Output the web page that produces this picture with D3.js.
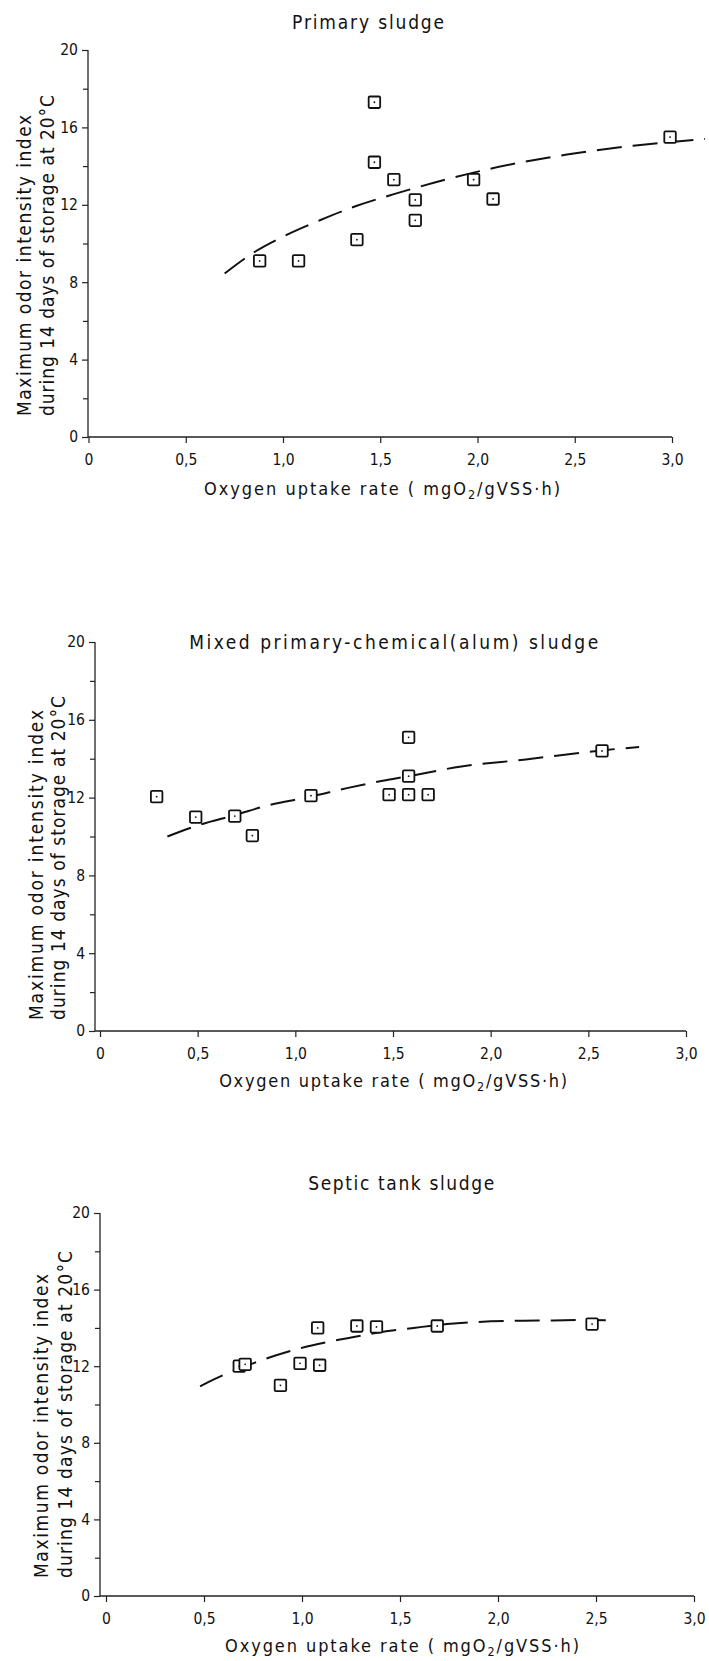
<!DOCTYPE html>
<html>
<head>
<meta charset="utf-8">
<script src="https://cdn.jsdelivr.net/npm/d3@7/dist/d3.min.js"></script>
<style>
  html, body { margin: 0; padding: 0; background: #fff; }
  svg { display: block; }
  text { font-family: "DejaVu Sans Condensed", "DejaVu Sans", sans-serif; fill: #111; }
</style>
</head>
<body>
<svg id="chart" width="709" height="1661"></svg>
<script>
// ---------------- DATA ----------------
const xTickValues = [0, 0.5, 1.0, 1.5, 2.0, 2.5, 3.0];
const xTickLabels = ["0", "0,5", "1,0", "1,5", "2,0", "2,5", "3,0"];
const yTickValues = [0, 4, 8, 12, 16, 20];
const yTickLabels = ["0", "4", "8", "12", "16", "20"];
const yMinorTicks = [2, 6, 10, 14, 18];

const titles = ["Primary sludge", "Mixed primary-chemical(alum) sludge", "Septic tank sludge"];
const yLabelLine1 = "Maximum odor intensity index";
const yLabelLine2 = "during 14 days of storage at 20\u00B0C";

// Primary sludge
const primaryX = [0.88, 1.08, 1.38, 1.47, 1.47, 1.57, 1.68, 1.68, 1.98, 2.08, 2.99];
const primaryY = [9.1, 9.1, 10.2, 17.3, 14.2, 13.3, 12.25, 11.2, 13.3, 12.3, 15.5];
const primaryCurveX = [0.70, 0.86, 1.01, 1.19, 1.38, 1.57, 1.78, 2.06, 2.46, 2.80, 3.17];
const primaryCurveY = [8.45, 9.6, 10.4, 11.2, 11.95, 12.55, 13.15, 13.85, 14.6, 15.05, 15.4];

// Mixed primary-chemical (alum) sludge
const mixedX = [0.29, 0.49, 0.69, 0.78, 1.08, 1.48, 1.58, 1.58, 1.58, 1.68, 2.57];
const mixedY = [12.05, 11.0, 11.05, 10.05, 12.1, 12.15, 15.1, 13.1, 12.15, 12.15, 14.4];
const mixedCurveX = [0.345, 0.51, 0.69, 0.86, 1.08, 1.27, 1.44, 1.58, 1.85, 2.17, 2.59, 2.76];
const mixedCurveY = [10.0, 10.6, 11.1, 11.6, 12.05, 12.5, 12.85, 13.1, 13.6, 13.95, 14.45, 14.6];

// Septic tank sludge
const septicX = [0.68, 0.71, 0.89, 0.99, 1.08, 1.09, 1.28, 1.38, 1.69, 2.48];
const septicY = [12.0, 12.1, 11.0, 12.15, 14.0, 12.05, 14.1, 14.05, 14.1, 14.2];
const septicCurveX = [0.48, 0.57, 0.75, 0.96, 1.14, 1.32, 1.45, 1.57, 1.74, 2.03, 2.20, 2.44, 2.55];
const septicCurveY = [10.95, 11.4, 12.15, 12.85, 13.28, 13.63, 13.85, 14.0, 14.2, 14.36, 14.38, 14.41, 14.4];

const seriesX = [primaryX, mixedX, septicX];
const seriesY = [primaryY, mixedY, septicY];
const curvesX = [primaryCurveX, mixedCurveX, septicCurveX];
const curvesY = [primaryCurveY, mixedCurveY, septicCurveY];

// ---------------- LAYOUT ----------------
const layout = [
  { x0: 88.5, x3: 672, y0: 437, y20: 50, axisX: 88,
    title: { x: 369, y: 29, w: 152 }, xlab: { x: 383, y: 495, w: 356 },
    ylab: { bottom: 416, x1: 31, x2: 54, w1: 301, w2: 321 } },
  { x0: 100, x3: 686, y0: 1031, y20: 642, axisX: 95,
    title: { x: 395, y: 649, w: 409 }, xlab: { x: 394, y: 1087, w: 348 },
    ylab: { bottom: 1020, x1: 43, x2: 65, w1: 310, w2: 324 } },
  { x0: 106, x3: 694, y0: 1596, y20: 1213, axisX: 100,
    title: { x: 402, y: 1190, w: 186 }, xlab: { x: 403, y: 1652, w: 354 },
    ylab: { bottom: 1578, x1: 48, x2: 72, w1: 304, w2: 327 } }
];

const svg = d3.select("#chart");

function fit(sel, target) {
  const txt = sel.text();
  const n = txt.length;
  const w = sel.node().getComputedTextLength();
  if (n > 1) sel.attr("letter-spacing", ((target - w) / (n - 1)).toFixed(3));
}

layout.forEach((L, i) => {
  const g = svg.append("g");
  const x = d3.scaleLinear().domain([0, 3]).range([L.x0, L.x3]);
  const y = d3.scaleLinear().domain([0, 20]).range([L.y0, L.y20]);

  // axis lines
  g.append("line").attr("x1", L.axisX).attr("x2", L.axisX)
    .attr("y1", y(20)).attr("y2", y(0))
    .attr("stroke", "#222").attr("stroke-width", 1.3);
  g.append("line").attr("x1", L.axisX).attr("x2", x(3))
    .attr("y1", y(0)).attr("y2", y(0))
    .attr("stroke", "#222").attr("stroke-width", 1.3);

  // y axis (major)
  const yAxis = d3.axisLeft(y).tickValues(yTickValues)
    .tickFormat((d, k) => yTickLabels[k]).tickSize(6).tickPadding(4).tickSizeOuter(0);
  const ya = g.append("g").attr("transform", `translate(${L.axisX},0)`).call(yAxis);
  ya.select(".domain").remove();
  ya.selectAll("text").style("font-size", "15.5px").attr("font-family", null);
  ya.selectAll("line").attr("stroke", "#222").attr("stroke-width", 1.2);

  // y axis (minor)
  const yMinor = d3.axisLeft(y).tickValues(yMinorTicks).tickFormat("").tickSize(5).tickSizeOuter(0);
  const ym = g.append("g").attr("transform", `translate(${L.axisX},0)`).call(yMinor);
  ym.select(".domain").remove();
  ym.selectAll("line").attr("stroke", "#222").attr("stroke-width", 1.2);

  // x axis
  const xAxis = d3.axisBottom(x).tickValues(xTickValues)
    .tickFormat((d, k) => xTickLabels[k]).tickSize(6).tickPadding(11).tickSizeOuter(0);
  const xa = g.append("g").attr("transform", `translate(0,${y(0)})`).call(xAxis);
  xa.select(".domain").remove();
  xa.selectAll("text").style("font-size", "15.5px").attr("font-family", null);
  xa.selectAll("line").attr("stroke", "#222").attr("stroke-width", 1.2);

  // title
  const t = g.append("text").attr("x", L.title.x).attr("y", L.title.y)
    .attr("text-anchor", "middle").style("font-size", "19px").text(titles[i]);
  fit(t, L.title.w);

  // x label
  const xl = g.append("text").attr("x", L.xlab.x).attr("y", L.xlab.y)
    .attr("text-anchor", "middle").style("font-size", "18px");
  xl.append("tspan").text("Oxygen uptake rate ( mgO");
  xl.append("tspan").attr("dy", 4).style("font-size", "12.5px").text("2");
  xl.append("tspan").attr("dy", -4).text("/gVSS\u00B7h)");
  fit(xl, L.xlab.w);

  // y label (two lines, bottom anchored)
  const y1 = g.append("text")
    .attr("transform", `translate(${L.ylab.x1},${L.ylab.bottom}) rotate(-90)`)
    .attr("text-anchor", "start").style("font-size", "19px").text(yLabelLine1);
  fit(y1, L.ylab.w1);
  const y2 = g.append("text")
    .attr("transform", `translate(${L.ylab.x2},${L.ylab.bottom}) rotate(-90)`)
    .attr("text-anchor", "start").style("font-size", "19px").text(yLabelLine2);
  fit(y2, L.ylab.w2);

  // dashed curve
  const pts = curvesX[i].map((cx, k) => [cx, curvesY[i][k]]);
  const line = d3.line().x(d => x(d[0])).y(d => y(d[1])).curve(d3.curveMonotoneX);
  g.append("path").attr("d", line(pts))
    .attr("fill", "none").attr("stroke", "#111").attr("stroke-width", 2)
    .attr("stroke-dasharray", "25,11");

  // markers
  const data = seriesX[i].map((sx, k) => [sx, seriesY[i][k]]);
  const s = 11.5;
  const m = g.append("g").selectAll("g").data(data).join("g")
    .attr("transform", d => `translate(${x(d[0])},${y(d[1])})`);
  m.append("rect").attr("x", -s / 2).attr("y", -s / 2).attr("width", s).attr("height", s)
    .attr("rx", 1.2).attr("fill", "#fff").attr("stroke", "#111").attr("stroke-width", 1.8);
  m.append("circle").attr("r", 0.9).attr("fill", "#111");
});
</script>
</body>
</html>
